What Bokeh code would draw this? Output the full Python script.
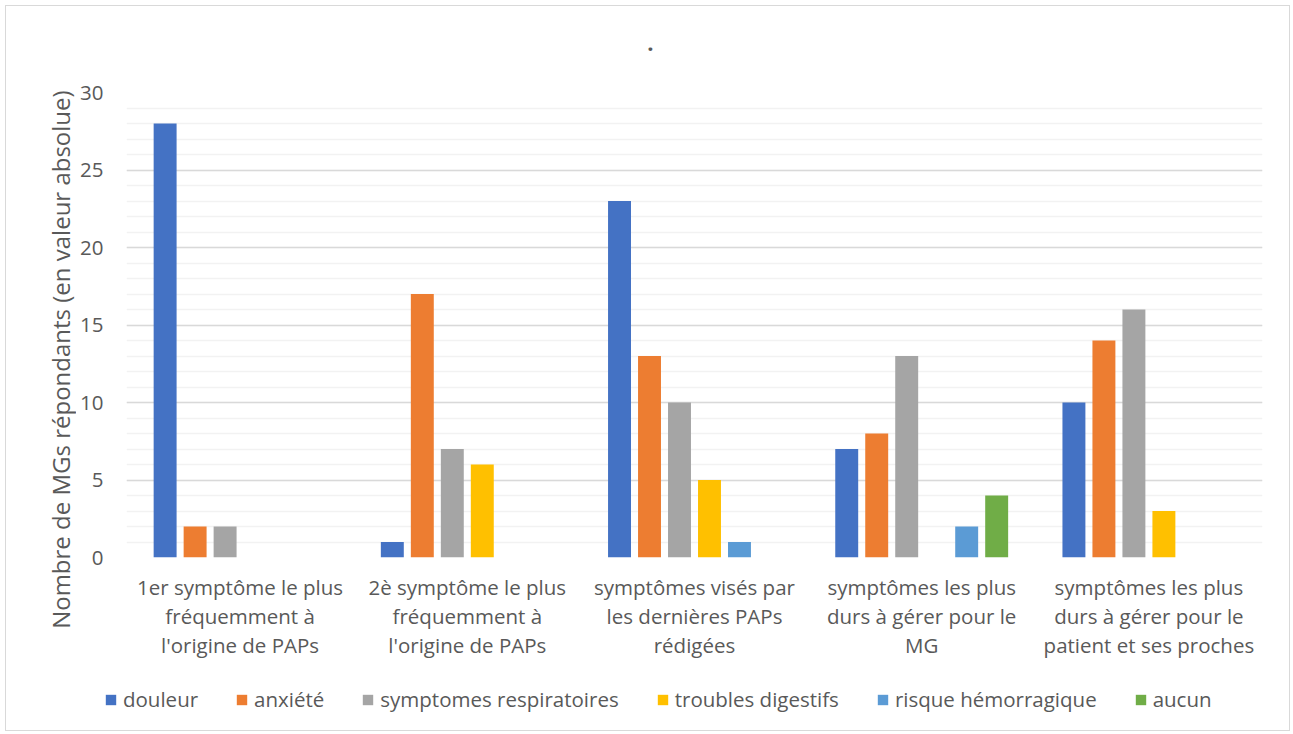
from bokeh.plotting import figure
from bokeh.layouts import column, row
from bokeh.models import ColumnDataSource, FactorRange, Legend, LegendItem, SingleIntervalTicker, Range1d, Plot
from bokeh.core.properties import value
from bokeh.transform import dodge
from bokeh.embed import file_html
from bokeh.resources import INLINE
import math

title_text = "."
y_title = "Nombre de MGs  répondants (en valeur absolue)"
categories = [
    "1er symptôme le plus\nfréquemment à\nl'origine de PAPs",
    "2è symptôme le plus\nfréquemment à\nl'origine de PAPs",
    "symptômes visés par\nles dernières PAPs\nrédigées",
    "symptômes les plus\ndurs à gérer pour le\nMG",
    "symptômes les plus\ndurs à gérer pour le\npatient et ses proches",
]
series_names = ["douleur", "anxiété", "symptomes respiratoires", "troubles digestifs",
                "risque hémorragique", "aucun"]
douleur = [28, 1, 23, 7, 10]
anxiete = [2, 17, 13, 8, 14]
respiratoires = [2, 7, 10, 13, 16]
digestifs = [0, 6, 5, 0, 3]
hemorragique = [0, 0, 1, 2, 0]
aucun = [0, 0, 0, 4, 0]
colors = ["#4472C4", "#ED7D31", "#A5A5A5", "#FFC000", "#5B9BD5", "#70AD47"]

keys = ["douleur", "anxiete", "respiratoires", "digestifs", "hemorragique", "aucun"]
source = ColumnDataSource(dict(cat=categories, douleur=douleur, anxiete=anxiete,
                               respiratoires=respiratoires, digestifs=digestifs,
                               hemorragique=hemorragique, aucun=aucun))

FONT = "Open Sans"
TXT = "#595959"
HAS_FA = "frame_align" in Plot.properties()

LEFT_W = 70
MAIN_W = 1213
TOP_H = 70
MAIN_H = 594
LEG_H = 60


def nofa(f):
    if HAS_FA:
        f.frame_align = False
    return f


def blank(width, height):
    f = figure(width=width, height=height, x_range=Range1d(0, width), y_range=Range1d(0, height),
               output_backend="svg", toolbar_location=None, min_border=0,
               x_axis_location=None, y_axis_location=None)
    f.xgrid.grid_line_color = None
    f.ygrid.grid_line_color = None
    f.outline_line_color = None
    return nofa(f)


# y-axis title strip
left = blank(LEFT_W, TOP_H + MAIN_H + LEG_H)
left.text(x=[54], y=[374], text=[y_title], angle=math.pi / 2, text_font=value(FONT),
          text_font_size="24px", text_color=TXT, text_align="center", text_baseline="middle")

# title strip
top = blank(MAIN_W, TOP_H)
top.text(x=[574], y=[33], text=[title_text], text_font=value(FONT),
         text_font_size="22px", text_font_style="bold", text_color=TXT,
         text_align="center", text_baseline="alphabetic")

# main chart
p = figure(width=MAIN_W, height=MAIN_H, x_range=FactorRange(*categories, range_padding=0),
           y_range=Range1d(0, 30), output_backend="svg", toolbar_location=None,
           min_border_left=50, min_border_right=27, min_border_top=16,
           min_border_bottom=113)
nofa(p)

step = 0.132
bw = 0.101
for i, (k, c) in enumerate(zip(keys, colors)):
    p.vbar(x=dodge("cat", (i - 2.5) * step, range=p.x_range), top=k, width=bw,
           source=source, fill_color=c, line_color=None)

p.yaxis.ticker = SingleIntervalTicker(interval=5, num_minor_ticks=5)
p.ygrid.grid_line_color = "#d9d9d9"
p.ygrid.grid_line_width = 1.5
p.ygrid.minor_grid_line_color = "#f2f2f2"
p.ygrid.minor_grid_line_width = 1.5
p.xgrid.grid_line_color = None
p.outline_line_color = None

for ax in (p.xaxis, p.yaxis):
    ax.axis_line_color = None
    ax.major_tick_line_color = None
    ax.minor_tick_line_color = None
    ax.major_label_text_font = FONT
    ax.major_label_text_color = TXT
    ax.major_label_text_font_size = "20.5px"

p.xaxis.major_label_text_line_height = 1.05
p.xaxis.major_label_standoff = 9
p.yaxis.major_label_standoff = 17

# legend strip
leg = blank(MAIN_W, LEG_H)
items = []
for name, c in zip(series_names, colors):
    hidden = ColumnDataSource(dict(x=[-1000], top=[0]))
    r = leg.vbar(x="x", top="top", width=1, source=hidden, fill_color=c, line_color=None)
    items.append(LegendItem(label=name, renderers=[r]))
legend = Legend(items=items, orientation="horizontal", location=(28, 17),
                spacing=37, glyph_width=13, glyph_height=13, label_standoff=6,
                label_text_font=FONT, label_text_font_size="20.5px", label_text_color=TXT,
                border_line_color=None, background_fill_alpha=0, padding=0, margin=0)
leg.add_layout(legend, "center")

layout = row(left, column(top, p, leg, spacing=0), spacing=0)
layout.margin = (5, 0, 0, 5)
layout.styles = {"border": "1px solid #d9d9d9"}

open("out.html", "w").write(file_html(layout, INLINE))
